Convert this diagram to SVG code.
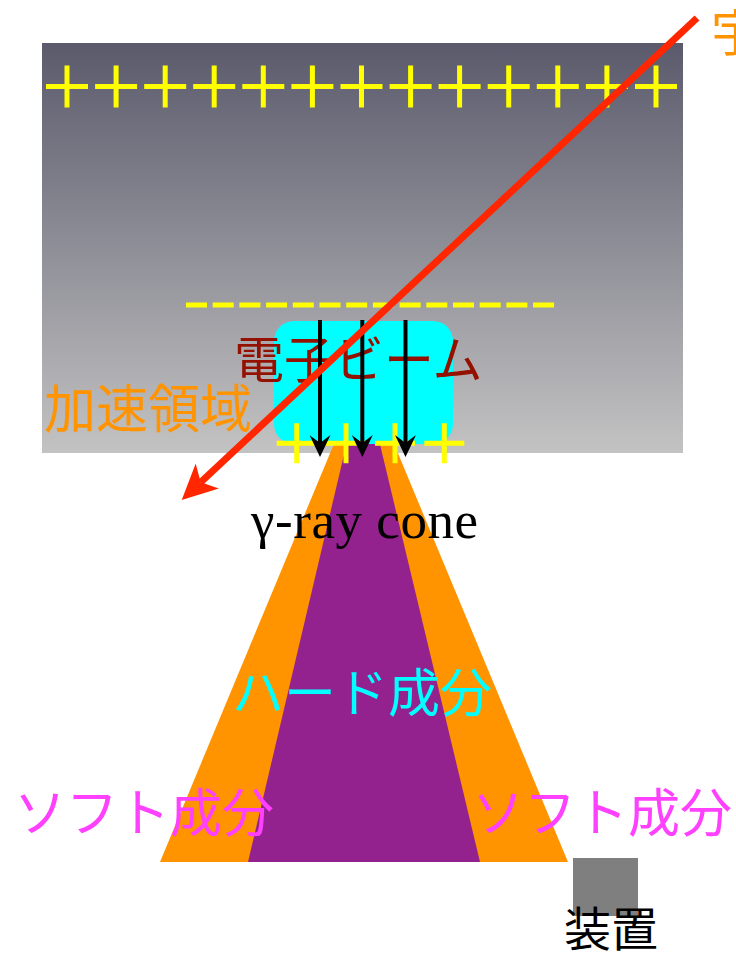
<svg xmlns="http://www.w3.org/2000/svg" xmlns:xlink="http://www.w3.org/1999/xlink" width="736" height="955" viewBox="0 0 736 955">
<style>
.plus{stroke:#ffff00;stroke-width:5;fill:none}
.jp{font-family:"Liberation Serif","Noto Sans CJK JP",serif}
.jpg{font-family:"Noto Sans CJK JP","Liberation Sans",sans-serif}
.beam{stroke:#000;stroke-width:4}
</style>
<defs>
<linearGradient id="bg" x1="0" y1="0" x2="0" y2="1">
<stop offset="0" stop-color="#5a5a6c"/>
<stop offset="1" stop-color="#c3c3c3"/>
</linearGradient>
<path id="p" d="M-21,0H21M0,-21V21"/>
<path id="ps" d="M-20,0H20M0,-20V20"/>
<marker id="ah" markerUnits="userSpaceOnUse" viewBox="0 0 22 21" markerWidth="22" markerHeight="21" refX="8" refY="10.5" orient="auto">
<path d="M0,0L22,10.5L0,21L8,10.5z" fill="#000"/>
</marker>
<marker id="rh" markerUnits="userSpaceOnUse" viewBox="0 0 35 34" markerWidth="35" markerHeight="34" refX="9" refY="17" orient="auto">
<path d="M0,0L35,17L0,34L9,17z" fill="#ff2600"/>
</marker>
</defs>
<g id="region">
<rect x="42" y="43" width="641" height="410" fill="url(#bg)"/>
<g class="plus">
<use xlink:href="#p" x="67" y="86.5"/>
<use xlink:href="#p" x="116.1" y="86.5"/>
<use xlink:href="#p" x="165.2" y="86.5"/>
<use xlink:href="#p" x="214.2" y="86.5"/>
<use xlink:href="#p" x="263.3" y="86.5"/>
<use xlink:href="#p" x="312.4" y="86.5"/>
<use xlink:href="#p" x="361.5" y="86.5"/>
<use xlink:href="#p" x="410.6" y="86.5"/>
<use xlink:href="#p" x="459.6" y="86.5"/>
<use xlink:href="#p" x="508.7" y="86.5"/>
<use xlink:href="#p" x="557.8" y="86.5"/>
<use xlink:href="#p" x="606.9" y="86.5"/>
<use xlink:href="#p" x="656" y="86.5"/>
</g>
<line x1="186" y1="305" x2="555" y2="305" stroke="#ffff00" stroke-width="5" stroke-dasharray="21 5.7"/>
<text class="jpg" x="44" y="428" font-size="52" fill="#ff9300">加速領域</text>
</g>
<g id="cone">
<polygon points="333.9,444 394.1,444 568,862 160,862" fill="#ff9300"/>
<polygon points="346.5,444 379.9,444 480,862 248,862" fill="#93218e"/>
</g>
<g id="beam">
<rect x="274" y="321" width="179" height="123" rx="20" fill="#00ffff"/>
<text class="jp" x="234" y="378" font-size="50" fill="#941100">電子ビーム</text>
<g class="plus">
<use xlink:href="#ps" x="296.7" y="443.3"/>
<use xlink:href="#ps" x="346" y="443.3"/>
<use xlink:href="#ps" x="395" y="443.3"/>
<use xlink:href="#ps" x="444.3" y="443.3"/>
</g>
</g>
<g id="connectors">
<line class="beam" x1="320" y1="320" x2="320" y2="443" marker-end="url(#ah)"/>
<line class="beam" x1="362.3" y1="320" x2="362.3" y2="443" marker-end="url(#ah)"/>
<line class="beam" x1="405.5" y1="320" x2="405.5" y2="443" marker-end="url(#ah)"/>
<line x1="697" y1="18" x2="200.7" y2="482.2" stroke="#ff2600" stroke-width="7" marker-end="url(#rh)"/>
</g>
<g id="labels">
<text x="251" y="538" font-family="Liberation Serif, serif" font-size="53" textLength="227" lengthAdjust="spacing" fill="#000">γ-ray cone</text>
<text class="jp" x="232" y="712" font-size="52" fill="#00ffff">ハード成分</text>
<text class="jp" x="14" y="832" font-size="52" fill="#ff40ff">ソフト成分</text>
<text class="jp" x="472" y="832" font-size="52" fill="#ff40ff">ソフト成分</text>
<text class="jpg" x="711" y="51" font-size="50" fill="#ff9300">宇</text>
</g>
<g id="device">
<rect x="573" y="858" width="65" height="58" fill="#7f7f7f"/>
<text class="jp" x="564" y="946" font-size="47" fill="#000">装置</text>
</g>
</svg>
